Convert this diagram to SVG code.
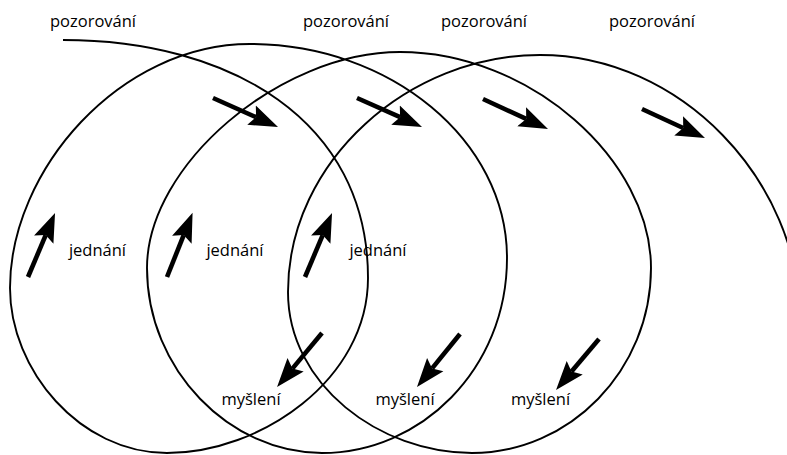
<svg xmlns="http://www.w3.org/2000/svg" width="787" height="455" viewBox="0 0 787 455">
  <style>
    .lbl { font-family: "Open Sans", "Liberation Sans", sans-serif; font-size: 16.5px; fill: #000; text-anchor: middle; }
    .cycle { fill: none; stroke: #000; stroke-width: 1.9; }
    .arr { stroke: #000; stroke-width: 4.6; stroke-linecap: butt; marker-end: url(#head); }
  </style>
  <defs>
    <marker id="head" markerUnits="userSpaceOnUse" viewBox="0 -12 30 24" markerWidth="30" markerHeight="24" refX="5" refY="0" orient="auto">
      <path d="M0,-10.5 L29,0 L0,10.5 L5,0 Z" fill="#000"/>
    </marker>
  </defs>

  <g id="connectors">
    <path id="spiral" class="cycle" d="M63,40 C230,40 368,120 368,278 C368,380 260,453 167,453 C80,453 10,370 10,288 C10,170 120,44 250,44 C390,44 507,140 507,258 C507,370 420,453 322,453 C230,453 147,370 147,268 C147,165 280,52 400,52 C530,52 651,160 651,268 C651,370 570,453 472,453 C380,453 288,385 288,292 C288,160 410,55 540,55 C680,55 800,180 800,320"/>
    <line class="arr" x1="213" y1="98" x2="256.1" y2="117.2"/>
    <line class="arr" x1="357" y1="98" x2="400.1" y2="117.2"/>
    <line class="arr" x1="483" y1="99" x2="526.2" y2="118.9"/>
    <line class="arr" x1="642" y1="109" x2="683.2" y2="128"/>
    <line class="arr" x1="28" y1="277" x2="45.7" y2="235.1"/>
    <line class="arr" x1="167" y1="277" x2="183.7" y2="235.1"/>
    <line class="arr" x1="305" y1="277" x2="322.7" y2="235.1"/>
    <line class="arr" x1="322" y1="333" x2="292.4" y2="368.6"/>
    <line class="arr" x1="460" y1="334" x2="432.1" y2="368.4"/>
    <line class="arr" x1="599" y1="339" x2="571.5" y2="371.6"/>
  </g>

  <g id="pozorovani-1"><text class="lbl" x="93" y="27">pozorování</text></g>
  <g id="pozorovani-2"><text class="lbl" x="346" y="27">pozorování</text></g>
  <g id="pozorovani-3"><text class="lbl" x="484" y="27">pozorování</text></g>
  <g id="pozorovani-4"><text class="lbl" x="652" y="27">pozorování</text></g>

  <g id="jednani-1"><text class="lbl" x="97.5" y="256">jednání</text></g>
  <g id="jednani-2"><text class="lbl" x="235" y="256">jednání</text></g>
  <g id="jednani-3"><text class="lbl" x="378" y="256">jednání</text></g>

  <g id="mysleni-1"><text class="lbl" x="251" y="405">myšlení</text></g>
  <g id="mysleni-2"><text class="lbl" x="405" y="405">myšlení</text></g>
  <g id="mysleni-3"><text class="lbl" x="540.5" y="405">myšlení</text></g>
</svg>
